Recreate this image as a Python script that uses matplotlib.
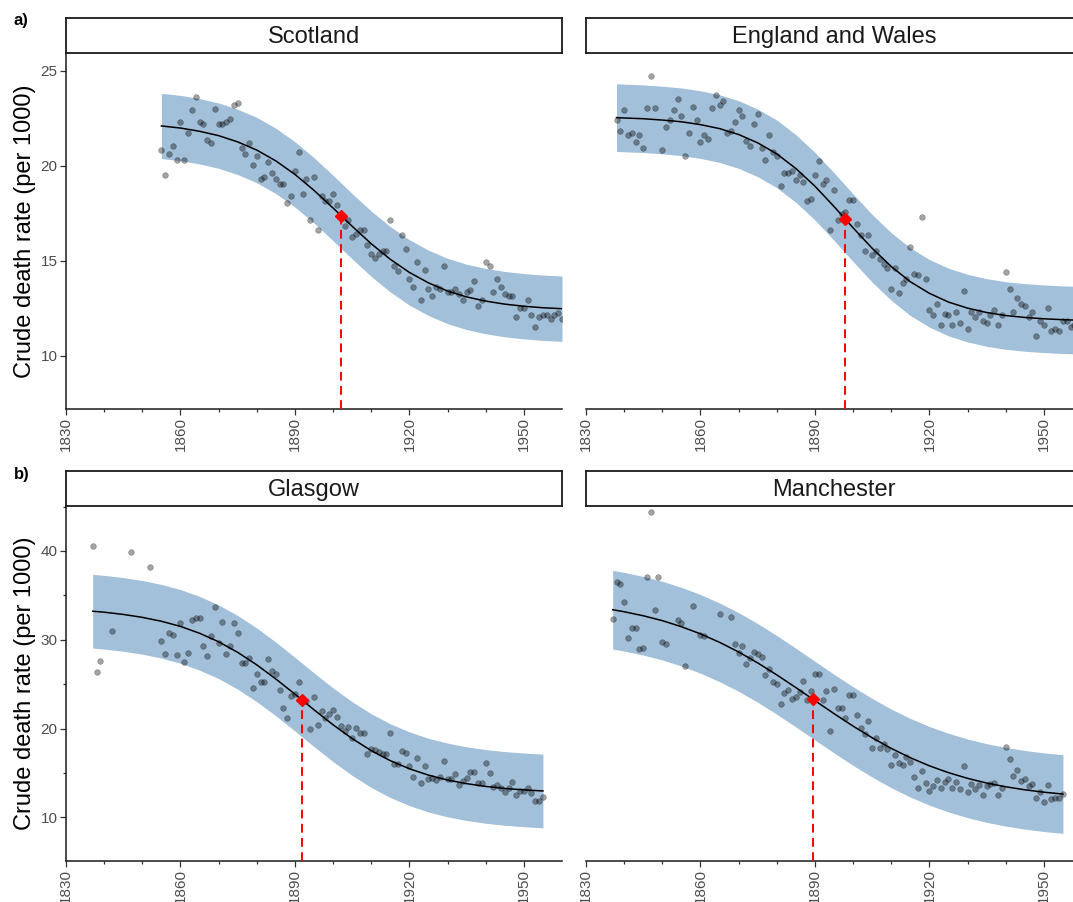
import numpy as np
import matplotlib.pyplot as plt

plt.rcParams['font.family'] = ['Liberation Sans', 'DejaVu Sans']

nan = np.nan

# ---- annual crude death rates (per 1000) ----
scot_start = 1855
scot_rate = [20.81, 19.53, 20.61, 21.02, 20.32, 22.32, 20.32, 21.70, 22.91, 23.61,
             22.32, 22.21, 21.33, 21.21, 23.00, 22.21, 22.21, 22.32, 22.44, 23.21,
             23.30, 20.93, 20.61, 21.21, 20.02, 20.53, 19.32, 19.40, 20.21, 19.61,
             19.32, 19.02, 19.02, 18.04, 18.42, 19.72, 20.72, 18.53, 19.32, 17.12,
             19.40, 16.63, 18.42, 18.12, 18.12, 18.53, 17.93, 17.40, 16.82, 17.12,
             16.23, 16.42, 16.63, 16.63, 15.82, 15.33, 15.14, 15.33, 15.53, 15.53,
             17.12, 14.74, 14.44, 16.33, 15.63, 14.04, 13.63, 14.93, 12.93, 14.53,
             13.53, 13.14, 13.63, 13.53, 14.74, 13.33, 13.33, 13.53, 13.23, 12.93,
             13.33, 13.44, 13.93, 12.63, 12.93, 14.93, 14.74, 13.33, 14.04, 13.63,
             13.23, 13.14, 13.14, 12.04, 12.53, 12.53, 12.93, 12.12, 11.53, 12.04,
             12.12, 12.12, 11.93, 12.12, 12.23, 11.93]

ew_start = 1838
ew_rate = [22.42, 21.82, 22.91, 21.61, 21.74, 21.23, 21.61, 20.93, 23.02, 24.72,
           23.02, nan, 20.82, 22.02, 22.42, 22.91, 23.51, 22.61, 20.52, 21.72,
           23.10, 22.42, 21.23, 21.61, 21.42, 23.02, 23.72, 23.21, 23.42, 21.72,
           21.82, 22.31, 22.91, 22.61, 21.31, 21.02, 22.21, 22.72, 20.93, 20.31,
           21.61, 20.72, 20.52, 18.93, 19.63, 19.63, 19.74, 19.23, 19.52, 19.12,
           18.14, 18.23, 19.52, 20.23, 19.03, 19.23, 16.63, 18.74, 17.14, 17.44,
           17.54, 18.21, 18.21, 16.93, 16.33, 15.52, 16.33, 15.31, 15.52, 15.10,
           14.82, 14.61, 13.52, 14.61, 13.31, 13.81, 14.03, 15.72, 14.31, 14.23,
           17.31, 14.01, 12.42, 12.12, 12.72, 11.63, 12.21, 12.12, 11.63, 12.31,
           11.72, 13.42, 11.42, 12.31, 12.02, 12.31, 11.82, 11.72, 12.12, 12.42,
           11.63, 12.12, 14.42, 13.50, 12.31, 13.02, 12.72, 12.61, 12.02, 12.31,
           11.03, 11.82, 11.63, 12.53, 11.31, 11.42, 11.31, 11.82, 11.82, 11.52,
           11.60, 11.70, 11.50]

gla_start = 1837
gla_rate = [40.56, 26.35, 27.66, nan, nan, 31.00, nan, nan, nan, nan,
            39.89, nan, nan, nan, nan, 38.20, nan, nan, 29.91, 28.41,
            30.81, 30.51, 28.30, 31.90, 27.51, 28.53, 32.20, 32.50, 32.50, 29.31,
            28.19, 30.40, 33.70, 29.61, 32.05, 28.41, 29.31, 31.83, 30.81, 27.40,
            27.40, 27.93, 24.59, 26.09, 25.23, 25.23, 27.85, 26.43, 26.13, 24.33,
            22.26, 21.21, 23.65, 23.84, 25.26, 23.30, 23.10, 19.90, 23.50, 20.39,
            22.00, 21.14, 21.63, 22.08, 21.25, 20.31, 19.75, 20.20, 18.89, 20.09,
            19.53, 19.53, 17.13, 17.69, 17.58, 17.40, 17.13, 17.10, 19.53, 16.00,
            16.00, 17.50, 17.20, 15.78, 14.58, 16.64, 13.90, 15.82, 14.32, 14.47,
            14.20, 14.50, 16.34, 14.28, 14.32, 14.84, 13.64, 14.13, 14.39, 15.14,
            15.14, 13.83, 13.83, 16.15, 14.95, 13.45, 13.64, 13.34, 12.82, 13.27,
            14.02, 12.52, 12.97, 12.97, 13.27, 12.78, 11.88, 11.88, 12.33]

man_start = 1837
man_rate = [32.37, 36.47, 36.32, 34.29, 30.23, 31.32, 31.32, 28.98, 29.06, 37.11,
            44.44, 33.31, 37.11, 29.70, 29.51, nan, nan, 32.18, 31.84, 26.99,
            nan, 33.76, nan, 30.49, 30.41, nan, nan, nan, 32.86, nan,
            nan, 32.56, 29.55, 28.46, 29.32, 27.29, 27.97, 28.65, 28.42, 28.00,
            26.05, 26.73, 25.19, 24.96, 22.74, 23.98, 24.36, 23.35, 23.57, 24.06,
            25.38, 23.23, 24.21, 26.17, 26.09, 23.16, 24.21, 19.77, 24.44, 22.29,
            22.29, 21.17, 23.83, 23.76, 21.54, 20.04, 19.40, 20.86, 17.78, 18.91,
            17.82, 18.27, 17.74, 15.86, 17.07, 16.17, 15.94, 16.77, 16.24, 14.51,
            13.31, 15.20, 13.83, 12.93, 13.50, 14.21, 13.31, 13.95, 14.32, 13.31,
            13.95, 13.20, 15.83, 12.82, 13.76, 13.20, 13.68, 12.56, 13.50, 13.76,
            13.83, 12.56, 13.31, 17.97, 16.58, 14.70, 15.38, 14.14, 14.32, 13.50,
            13.76, 12.18, 12.82, 11.69, 13.68, 12.11, 12.18, 12.18, 12.63]

# ---- fitted logistic curves, sampled every five years ----
scot_fit_yr = [1855, 1860, 1865, 1870, 1875, 1880, 1885, 1890, 1895, 1900, 1905,
               1910, 1915, 1920, 1925, 1930, 1935, 1940, 1945, 1950, 1955, 1960]
scot_fit = [22.09, 21.98, 21.81, 21.58, 21.25, 20.82, 20.25, 19.54, 18.70, 17.77, 16.81,
            15.89, 15.07, 14.38, 13.83, 13.40, 13.09, 12.87, 12.71, 12.60, 12.52, 12.47]

ew_fit_yr = [1838, 1840, 1845, 1850, 1855, 1860, 1865, 1870, 1875, 1880, 1885, 1890, 1895,
             1900, 1905, 1910, 1915, 1920, 1925, 1930, 1935, 1940, 1945, 1950, 1955, 1960]
ew_fit = [22.53, 22.51, 22.47, 22.40, 22.31, 22.16, 21.95, 21.64, 21.20, 20.62, 19.85, 18.92, 17.85,
          16.73, 15.65, 14.69, 13.89, 13.28, 12.82, 12.50, 12.27, 12.11, 12.01, 11.94, 11.89, 11.86]

gla_fit_yr = [1837, 1840, 1845, 1850, 1855, 1860, 1865, 1870, 1875, 1880, 1885, 1890, 1895,
              1900, 1905, 1910, 1915, 1920, 1925, 1930, 1935, 1940, 1945, 1950, 1955]
gla_fit = [33.21, 33.10, 32.85, 32.52, 32.08, 31.50, 30.73, 29.77, 28.58, 27.17, 25.58, 23.87, 22.11,
           20.42, 18.87, 17.51, 16.38, 15.47, 14.75, 14.20, 13.79, 13.48, 13.25, 13.09, 12.97]

man_fit_yr = gla_fit_yr
man_fit = [33.38, 33.15, 32.70, 32.15, 31.47, 30.66, 29.71, 28.62, 27.39, 26.04, 24.61, 23.14, 21.68,
           20.27, 18.96, 17.76, 16.71, 15.80, 15.03, 14.39, 13.86, 13.44, 13.10, 12.83, 12.62]

# half-width of the prediction band
band = {'Scotland': 1.72, 'England and Wales': 1.78, 'Glasgow': 4.15, 'Manchester': 4.43}

# year and rate at the curve's midpoint
mid = {'Scotland': (1902.2, 17.35), 'England and Wales': (1897.9, 17.2),
       'Glasgow': (1891.9, 23.2), 'Manchester': (1889.4, 23.3)}

panels = [
    ('Scotland', scot_start, scot_rate, scot_fit_yr, scot_fit),
    ('England and Wales', ew_start, ew_rate, ew_fit_yr, ew_fit),
    ('Glasgow', gla_start, gla_rate, gla_fit_yr, gla_fit),
    ('Manchester', man_start, man_rate, man_fit_yr, man_fit),
]

W, H = 1073, 902
fig = plt.figure(figsize=(W / 100, H / 100), dpi=100)

def frac(x0, y0, x1, y1):
    # pixel box (top-left origin) -> figure fraction rectangle
    return [x0 / W, 1 - y1 / H, (x1 - x0) / W, (y1 - y0) / H]

# axes boxes in pixels: (left, top, right, bottom)
boxes = [(66, 53, 562, 409), (586, 53, 1082, 409),
         (66, 506, 562, 861), (586, 506, 1082, 861)]
ylims = [(7.19, 25.93), (7.19, 25.93), (5.08, 45.06), (5.08, 45.06)]

tick_col = '#333333'
lab_col = '#4D4D4D'

for i, (name, start, rate, fit_yr, fit) in enumerate(panels):
    x0, y0, x1, y1 = boxes[i]
    ax = fig.add_axes(frac(x0, y0, x1, y1))
    yrs = start + np.arange(len(rate))
    fit_yr = np.array(fit_yr)
    fit = np.array(fit)
    hw = band[name]

    ax.fill_between(fit_yr, fit - hw, fit + hw, color='steelblue', alpha=0.5, lw=0, zorder=1)
    ax.scatter(yrs, rate, s=17, color='black', alpha=0.36, edgecolors='black',
               linewidths=0.4, zorder=2)
    ax.plot(fit_yr, fit, color='black', lw=1.1, zorder=3)
    mx, my = mid[name]
    ax.plot([mx, mx], [ylims[i][0], my], color='red', lw=1.4, ls=(0, (4.5, 2.8)), zorder=4)
    ax.plot(mx, my, 'D', color='red', ms=6.5, mec='red', zorder=5)

    ax.set_xlim(1830, 1960)
    ax.set_ylim(*ylims[i])
    ax.set_xticks(np.arange(1830, 1961, 30))
    ax.set_xticks(np.arange(1840, 1960, 10), minor=True)
    ax.tick_params(axis='x', which='major', length=4, width=0.9, color=tick_col,
                   labelsize=11, labelcolor=lab_col, labelrotation=90, pad=2)
    ax.tick_params(axis='x', which='minor', length=2.5, width=0.9, color=tick_col)

    for s in ['top', 'right']:
        ax.spines[s].set_visible(False)
    ax.spines['bottom'].set_linewidth(1.1)
    ax.spines['bottom'].set_color('#1a1a1a')

    if i % 2 == 0:
        ax.spines['left'].set_linewidth(1.1)
        ax.spines['left'].set_color('#1a1a1a')
        if i == 0:
            ax.set_yticks([10, 15, 20, 25])
        else:
            ax.set_yticks([10, 20, 30, 40])
            ax.set_yticks([15, 25, 35, 45], minor=True)
        ax.tick_params(axis='y', which='major', length=4, width=0.9, color=tick_col,
                       labelsize=11, labelcolor=lab_col, pad=2)
        ax.tick_params(axis='y', which='minor', length=2.5, width=0.9, color=tick_col)
        ax.set_ylabel('Crude death rate (per 1000)', fontsize=17, labelpad=3)
    else:
        ax.spines['left'].set_visible(False)
        ax.set_yticks([])

    # facet strip
    sx = fig.add_axes(frac(x0, y0 - 35, x1, y0))
    sx.set_xticks([])
    sx.set_yticks([])
    for s in sx.spines.values():
        s.set_linewidth(1.3)
        s.set_color('#1a1a1a')
    sx.text(0.5, 0.47, name, ha='center', va='center', fontsize=17, color='#1a1a1a',
            transform=sx.transAxes)

fig.text(14 / W, 1 - 21 / H, 'a)', fontsize=12, fontweight='bold', va='center')
fig.text(14 / W, 1 - 474 / H, 'b)', fontsize=12, fontweight='bold', va='center')

fig.savefig('out.png', dpi=100)
